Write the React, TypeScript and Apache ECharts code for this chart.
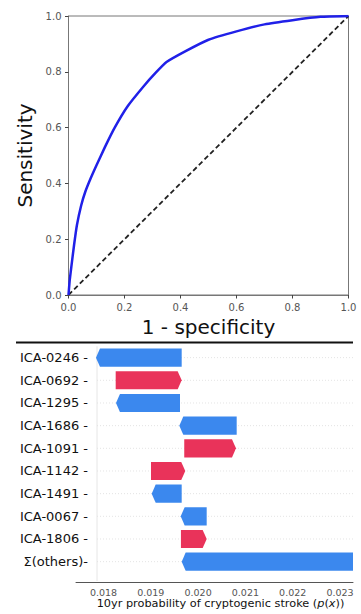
import React, { useEffect, useRef } from 'react';
import * as echarts from 'echarts';

// ROC curve (top panel)
const rocFpr = [0, 0.004, 0.01, 0.02, 0.03, 0.045, 0.06, 0.08, 0.1, 0.13, 0.165, 0.21, 0.27, 0.31, 0.35, 0.42, 0.5, 0.6, 0.7, 0.8, 0.9, 1.0];
const rocTpr = [0, 0.05, 0.1, 0.18, 0.25, 0.32, 0.37, 0.42, 0.465, 0.53, 0.6, 0.675, 0.75, 0.795, 0.835, 0.875, 0.915, 0.945, 0.97, 0.985, 0.997, 1.0];
const rocTicks = [0, 0.2, 0.4, 0.6, 0.8, 1.0];

// Waterfall-like feature contributions (bottom panel)
const features = ['ICA-0246 -', 'ICA-0692 -', 'ICA-1295 -', 'ICA-1686 -', 'ICA-1091 -', 'ICA-1142 -', 'ICA-1491 -', 'ICA-0067 -', 'ICA-1806 -', 'Σ(others)-'];
const featLow = [0.017841, 0.018258, 0.018264, 0.019603, 0.019708, 0.019004, 0.019019, 0.019632, 0.019638, 0.019653];
const featHigh = [0.019653, 0.019653, 0.019617, 0.020816, 0.020801, 0.019729, 0.019653, 0.020182, 0.020182, 0.0240];
// -1: arrow points left (blue), 1: arrow points right (red)
const featDir = [-1, 1, -1, -1, 1, 1, -1, -1, 1, -1];
const baseValue = 0.017863;
const probTicks = [0.018, 0.019, 0.02, 0.021, 0.022, 0.023];
const probMin = 0.017419;
const probMax = 0.023275;

const BLUE = '#3b88ee';
const RED = '#e9335a';
const FONT = 'DejaVu Sans';

export default function App() {
  const ref = useRef<HTMLDivElement>(null);
  useEffect(() => {
    if (!ref.current) return;
    const chart = echarts.init(ref.current, null, { renderer: 'svg' });
    const barData = features.map((_, i) => [i, featLow[i], featHigh[i], featDir[i]]);
    const option: any = {
      animation: false,
      backgroundColor: '#ffffff',
      textStyle: { fontFamily: FONT },
      grid: [
        { left: 68.5, top: 16, width: 280, height: 279, show: true, borderColor: '#777', borderWidth: 1, backgroundColor: 'transparent' },
        { left: 76, right: 8, top: 346.3, height: 226.7 },
      ],
      xAxis: [
        {
          gridIndex: 0, type: 'value', min: 0, max: 1,
          axisLabel: { customValues: rocTicks, formatter: (v: number) => v.toFixed(1), color: '#555', fontSize: 10, margin: 7, fontFamily: FONT },
          axisTick: { customValues: rocTicks, inside: false, length: 3.5, lineStyle: { color: '#444' } },
          axisLine: { show: true, lineStyle: { color: '#777' } },
          splitLine: { show: false },
          name: '1 - specificity', nameLocation: 'middle', nameGap: 22,
          nameTextStyle: { fontSize: 20, color: '#111', fontFamily: FONT },
        },
        {
          gridIndex: 1, type: 'value', min: probMin, max: probMax, offset: 9,
          axisLabel: { customValues: probTicks, formatter: (v: number) => v.toFixed(3), color: '#555', fontSize: 9.5, margin: 5, fontFamily: FONT },
          axisTick: { customValues: probTicks, length: 3, lineStyle: { color: '#555' } },
          axisLine: { show: true, lineStyle: { color: '#555' } },
          splitLine: { show: false },
          name: '10yr probability of cryptogenic stroke ({i|p}({i|x}))', nameLocation: 'middle', nameGap: 16,
          nameTextStyle: { fontSize: 11.3, color: '#111', fontFamily: FONT, padding: [0, 0, 0, 12], rich: { i: { fontStyle: 'italic', fontSize: 11.3, color: '#111', fontFamily: FONT } } },
        },
      ],
      yAxis: [
        {
          gridIndex: 0, type: 'value', min: 0, max: 1,
          axisLabel: { customValues: rocTicks, formatter: (v: number) => v.toFixed(1), color: '#555', fontSize: 10, margin: 7, fontFamily: FONT },
          axisTick: { customValues: rocTicks, length: 3.5, lineStyle: { color: '#444' } },
          axisLine: { show: true, lineStyle: { color: '#777' } },
          splitLine: { show: false },
          name: 'Sensitivity', nameLocation: 'middle', nameGap: 30,
          nameTextStyle: { fontSize: 20, color: '#111', fontFamily: FONT },
        },
        {
          gridIndex: 1, type: 'category', data: features, inverse: true,
          axisLine: { show: false }, axisTick: { show: false }, splitLine: { show: false },
          axisLabel: { color: '#111', fontSize: 13, margin: -12, fontFamily: FONT },
        },
      ],
      series: [
        {
          type: 'line', xAxisIndex: 0, yAxisIndex: 0, showSymbol: false, silent: true,
          data: [[0, 0], [1, 1]],
          lineStyle: { color: '#222', width: 1.8, type: [5, 3] },
        },
        {
          type: 'line', xAxisIndex: 0, yAxisIndex: 0, showSymbol: false, silent: true,
          data: rocFpr.map((x, i) => [x, rocTpr[i]]),
          smooth: 0.15,
          lineStyle: { color: '#2020e8', width: 2.5 },
        },
        {
          type: 'custom', xAxisIndex: 1, yAxisIndex: 1, silent: true,
          data: barData,
          encode: { x: [1, 2], y: 0 },
          renderItem: (params: any, api: any) => {
            const idx = api.value(0);
            const lo = api.value(1);
            const hi = api.value(2);
            const dir = api.value(3);
            const cs = params.coordSys;
            const p0 = api.coord([lo, idx]);
            const p1 = api.coord([hi, idx]);
            const pb = api.coord([baseValue, idx]);
            const band = api.size([0, 1])[1];
            const h = band * 0.8;
            const yc = p0[1];
            const y0 = yc - h / 2;
            const y1 = yc + h / 2;
            const xl = p0[0];
            const xr = Math.min(p1[0], cs.x + cs.width);
            const tip = 4;
            const pts = dir < 0
              ? [[xl, yc], [xl + tip, y0], [xr, y0], [xr, y1], [xl + tip, y1]]
              : [[xl, y0], [xr - tip, y0], [xr, yc], [xr - tip, y1], [xl, y1]];
            const children: any[] = [
              {
                type: 'line',
                shape: { x1: pb[0], y1: yc, x2: cs.x + cs.width, y2: yc },
                style: { stroke: '#e4e4e4', lineWidth: 1, lineDash: [1, 2] },
                z2: 0,
              },
              {
                type: 'polygon',
                shape: { points: pts },
                style: { fill: dir < 0 ? BLUE : RED, stroke: null },
                z2: 2,
              },
            ];
            if (idx === 0) {
              children.push({
                type: 'line',
                shape: { x1: pb[0], y1: cs.y, x2: pb[0], y2: cs.y + cs.height + 8 },
                style: { stroke: '#e6e6e6', lineWidth: 1 },
                z2: 0,
              });
            }
            return { type: 'group', children };
          },
        },
      ],
      graphic: [
        {
          type: 'line', silent: true,
          shape: { x1: 16, y1: 342.5, x2: 353, y2: 342.5 },
          style: { stroke: '#111', lineWidth: 2 },
        },
      ],
    };
    chart.setOption(option);
    return () => chart.dispose();
  }, []);
  return <div ref={ref} style={{ position: 'absolute', left: 0, top: 0, width: 361, height: 614 }} />;
}
